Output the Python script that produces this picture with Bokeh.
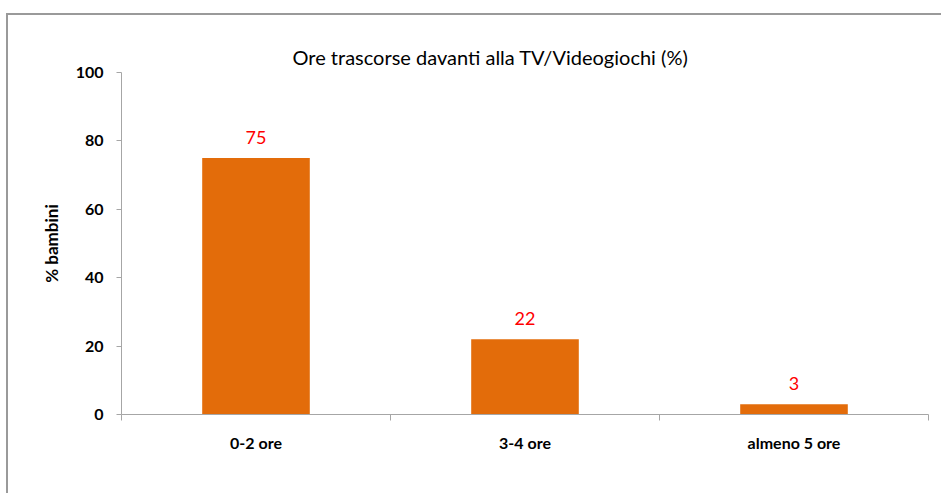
from bokeh.plotting import figure
from bokeh.models import FixedTicker, ColumnDataSource, Range1d
from bokeh.embed import file_html
from bokeh.resources import INLINE
from bokeh.core.properties import value
import numpy as np

categories = ["0-2 ore", "3-4 ore", "almeno 5 ore"]
values = [75, 22, 3]
y_ticks = [0, 20, 40, 60, 80, 100]
title_text = "Ore trascorse davanti alla TV/Videogiochi (%)"
y_label = "% bambini"

FONT = "Lato"
xpos = np.arange(len(categories)) + 0.5

src = ColumnDataSource(dict(x=xpos, top=values, lab=[str(v) for v in values]))

p = figure(width=935, height=480, output_backend="svg", toolbar_location=None,
           x_range=Range1d(0, len(categories)), y_range=Range1d(0, 100),
           min_border_left=113, min_border_right=15, min_border_top=57, min_border_bottom=81,
           title=title_text)
p.styles = {"border-top": "2px solid #9a9a9a", "border-left": "2px solid #9a9a9a",
            "margin-top": "13px", "margin-left": "6px"}
p.outline_line_color = None
p.xgrid.visible = False
p.ygrid.visible = False

p.title.text_font = FONT
p.title.text_font_style = "normal"
p.title.text_font_size = "20px"
p.title.text_color = "#000000"
p.title.align = "left"
p.title.offset = 171
p.title.standoff = 7

p.vbar(x="x", top="top", width=0.4, source=src, fill_color="#E36C0A", line_color=None)
p.text(x="x", y="top", text="lab", source=src, text_color="#FF0000",
       text_font=value(FONT), text_font_size="18px", text_align="center",
       text_baseline="middle", y_offset=-21)

# x axis
p.xaxis.ticker = FixedTicker(ticks=list(xpos), minor_ticks=list(range(len(categories) + 1)))
p.xaxis.major_label_overrides = {float(x): c for x, c in zip(xpos, categories)}
p.xaxis.major_tick_out = 0
p.xaxis.major_tick_in = 0
p.xaxis.minor_tick_out = 6
p.xaxis.minor_tick_in = 0
p.xaxis.minor_tick_line_color = "#a6a6a6"
p.xaxis.axis_line_color = "#a6a6a6"
p.xaxis.major_label_standoff = 12
p.xaxis.major_label_text_font = FONT
p.xaxis.major_label_text_font_style = "bold"
p.xaxis.major_label_text_font_size = "16px"
p.xaxis.major_label_text_color = "#000000"

# y axis
p.yaxis.ticker = FixedTicker(ticks=y_ticks)
p.yaxis.major_tick_out = 5
p.yaxis.major_tick_in = 0
p.yaxis.minor_tick_line_color = None
p.yaxis.major_tick_line_color = "#a6a6a6"
p.yaxis.axis_line_color = "#a6a6a6"
p.yaxis.major_label_standoff = 13
p.yaxis.major_label_text_font = FONT
p.yaxis.major_label_text_font_style = "bold"
p.yaxis.major_label_text_font_size = "16px"
p.yaxis.major_label_text_color = "#000000"
p.yaxis.axis_label = y_label
p.yaxis.axis_label_text_font = FONT
p.yaxis.axis_label_text_font_style = "bold"
p.yaxis.axis_label_text_font_size = "17px"
p.yaxis.axis_label_text_color = "#000000"
p.yaxis.axis_label_standoff = 11

open("out.html", "w").write(file_html(p, INLINE))
